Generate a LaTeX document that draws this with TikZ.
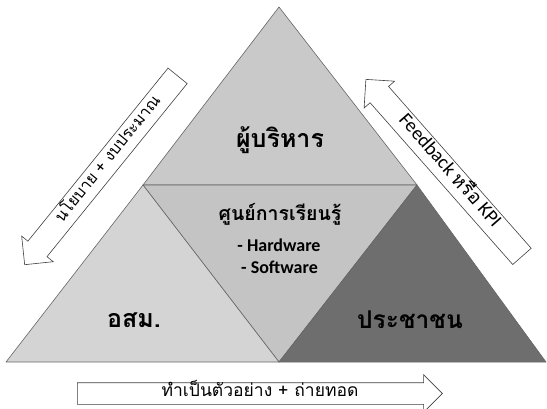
\documentclass[tikz,border=0pt]{standalone}
\usepackage{fontspec}
\setmainfont{Carlito}
\newfontfamily\thai[Script=Thai]{Loma}
\usetikzlibrary{shapes.arrows}
\usetikzlibrary{positioning}
\colorlet{topgray}{black!21}
\colorlet{midgray}{black!23}
\colorlet{leftgray}{black!17}
\colorlet{rightgray}{black!57}
\tikzstyle{part}=[draw=black!60, line width=.6pt, line join=round]
\tikzstyle{flow}=[draw=black!75, fill=white, line width=.6pt, single arrow,
  single arrow head extend=8pt, text height=9pt, text depth=3pt,
  inner xsep=0pt, inner ysep=6pt, font=\thai\fontsize{16}{16}\selectfont]
\tikzstyle{lbl}=[font=\thai\bfseries\fontsize{25}{25}\selectfont]
\tikzstyle{item}=[font=\fontsize{18}{18}\selectfont\bfseries,inner sep=0pt]

\begin{document}
\begin{tikzpicture}[x=1pt,y=-1pt]
	\useasboundingbox (0,0) rectangle (547,409);
	\coordinate (top) at (279,7);
	\coordinate (bl)  at (6,362);
	\coordinate (br)  at (546,362);
	\coordinate (lm)  at (143,185);
	\coordinate (rm)  at (417,185);
	\coordinate (bm)  at (279,362);
	% the four parts of the pyramid
	\filldraw[part,fill=topgray]   (top) -- (lm) -- (rm) -- cycle;
	\filldraw[part,fill=midgray]   (lm) -- (rm) -- (bm) -- cycle;
	\filldraw[part,fill=leftgray]  (lm) -- (bl) -- (bm) -- cycle;
	\filldraw[part,fill=rightgray] (rm) -- (bm) -- (br) -- cycle;
	\node[lbl] (boss)   at (280,140) {ผู้บริหาร};
	\node[lbl,font=\thai\bfseries\fontsize{19.5}{19.5}\selectfont] (centre)
		at (280,214) {ศูนย์การเรียนรู้};
	\node[item] (hw) at (279,245) {- Hardware};
	\node[item] (sw) at (279.5,267) {- Software};
	\node[lbl] (vol)    at (134,320) {อสม.};
	\node[lbl,font=\thai\bfseries\fontsize{24.5}{24.5}\selectfont] (people)
		at (410,320) {ประชาชน};
	% arrows round the pyramid
	\node[flow,minimum height=243pt,rotate=51,shape border rotate=180] (policy)
		at (105,165.5) {\hspace*{14pt}นโยบาย + งบประมาณ};
	\node[flow,minimum height=236pt,rotate=-48.6,shape border rotate=180,
		font=\fontsize{19.5}{19.5}\selectfont] (feedback)
		at (448,172.5) {Feedback {\thai หรือ} KPI};
	\node[flow,minimum height=365pt,inner ysep=4.5pt,
		font=\thai\fontsize{17.5}{17.5}\selectfont] (model)
		at (254.5,393.5) {\hspace*{11pt}ทำเป็นตัวอย่าง + ถ่ายทอด};
\end{tikzpicture}
\end{document}
